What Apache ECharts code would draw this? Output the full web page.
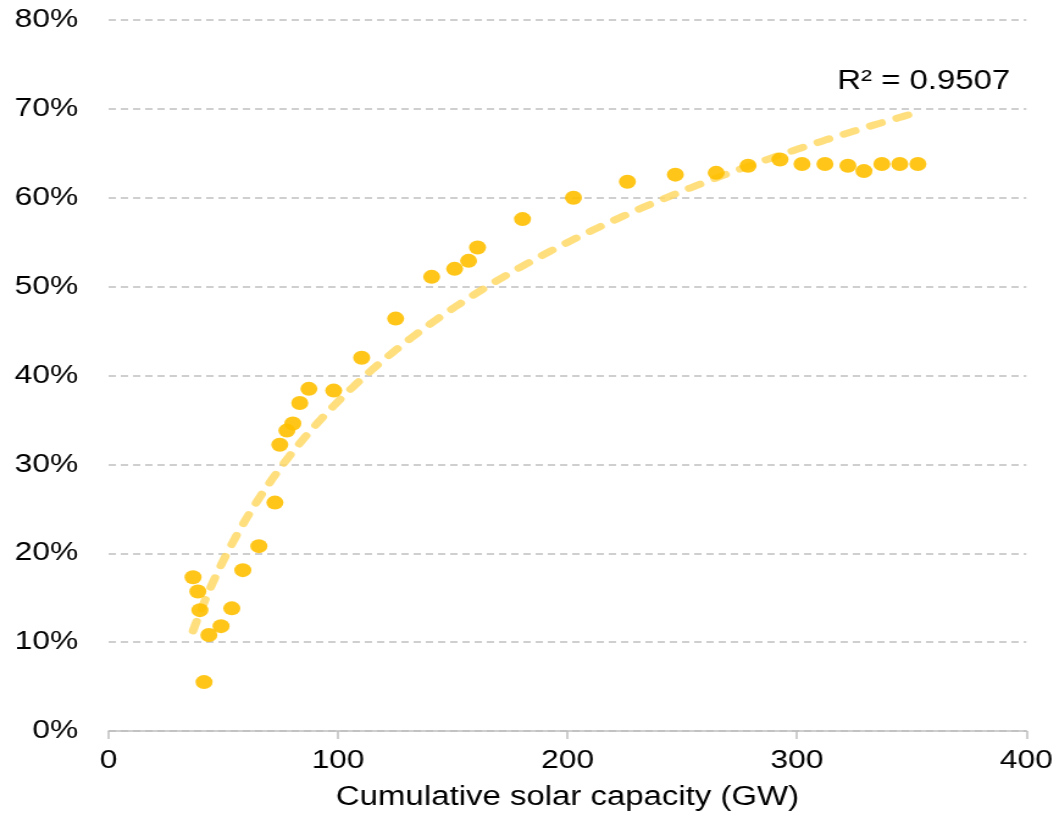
<!DOCTYPE html>
<html>
<head>
<meta charset="utf-8">
<script src="https://cdn.jsdelivr.net/npm/echarts@6/dist/echarts.min.js"></script>
<style>
html,body{margin:0;padding:0;background:#fff;overflow:hidden;}
#wrap{width:1056px;height:816px;overflow:hidden;position:relative;}
#chart{width:866px;height:816px;transform:scaleX(1.22);transform-origin:0 0;}
</style>
</head>
<body>
<div id="wrap"><div id="chart"></div></div>
<script>
// Cumulative solar capacity (GW)
const capacityGW = [36.8, 38.9, 39.8, 41.6, 43.7, 49.0, 53.7, 58.5, 65.5, 72.5, 74.6, 77.7, 80.3, 83.3, 87.3,
  98.1, 110.3, 125.1, 140.8, 150.8, 156.9, 160.8, 180.4, 202.6, 226.1, 247.0, 264.8, 278.7, 292.6,
  302.2, 312.2, 322.2, 329.2, 337.0, 344.8, 352.7];
// Share (%)
const sharePct = [17.3, 15.7, 13.6, 5.5, 10.8, 11.8, 13.8, 18.1, 20.8, 25.7, 32.2, 33.8, 34.6, 36.9, 38.5,
  38.3, 42.0, 46.4, 51.1, 52.0, 52.9, 54.4, 57.6, 60.0, 61.8, 62.6, 62.8, 63.6, 64.3,
  63.8, 63.8, 63.6, 63.0, 63.8, 63.8, 63.8];
const rSquaredText = 'R² = 0.9507';
const xTicks = [0, 100, 200, 300, 400];
const yTicks = [0, 10, 20, 30, 40, 50, 60, 70, 80];

const points = capacityGW.map((x, i) => [x, sharePct[i]]);

// Logarithmic trendline fitted by least squares to the data
const n = points.length;
let sx = 0, sy = 0, sxx = 0, sxy = 0;
points.forEach(([x, y]) => { const l = Math.log(x); sx += l; sy += y; sxx += l * l; sxy += l * y; });
const a = (n * sxy - sx * sy) / (n * sxx - sx * sx);
const b = (sy - a * sx) / n;
const xMin = Math.min(...capacityGW), xMax = Math.max(...capacityGW);
const trend = [];
const steps = 300;
for (let i = 0; i <= steps; i++) {
  const x = xMin + (xMax - xMin) * i / steps;
  trend.push([x, a * Math.log(x) + b]);
}

const font = 'Liberation Sans, Arial, sans-serif';
const chart = echarts.init(document.getElementById('chart'), null, {renderer: 'canvas'});
chart.setOption({
  animation: false,
  grid: {left: 89, right: 23, top: 20, bottom: 84, containLabel: false},
  xAxis: {
    type: 'value', min: xTicks[0], max: xTicks[xTicks.length - 1], interval: 100,
    name: 'Cumulative solar capacity (GW)', nameLocation: 'middle', nameGap: 53,
    nameTextStyle: {fontFamily: font, fontSize: 27, color: '#000'},
    axisLine: {show: true, lineStyle: {color: '#bfbfbf', width: 1.5}},
    axisTick: {show: true, length: 8, lineStyle: {color: '#bfbfbf', width: 1.5}},
    axisLabel: {fontFamily: font, fontSize: 26, color: '#000', margin: 17},
    splitLine: {show: false}
  },
  yAxis: {
    type: 'value', min: yTicks[0], max: yTicks[yTicks.length - 1], interval: 10,
    axisLine: {show: false}, axisTick: {show: false},
    axisLabel: {fontFamily: font, fontSize: 26, color: '#000', margin: 25, formatter: '{value}%'},
    splitLine: {show: true, lineStyle: {color: '#c0c0c0', width: 1.5, type: [6, 4]}}
  },
  series: [
    {
      type: 'line', data: trend, showSymbol: false, smooth: false, z: 2,
      lineStyle: {color: '#FFD966', width: 7, opacity: 0.85, type: [10, 13], cap: 'round'}
    },
    {
      type: 'scatter', data: points, symbol: 'circle', symbolSize: 14, z: 3,
      itemStyle: {color: '#FFC000', opacity: 0.9}
    }
  ],
  graphic: [{
    type: 'text', right: 38, top: 68,
    style: {text: rSquaredText, font: '27px ' + font, fill: '#000'}
  }]
});
</script>
</body>
</html>
